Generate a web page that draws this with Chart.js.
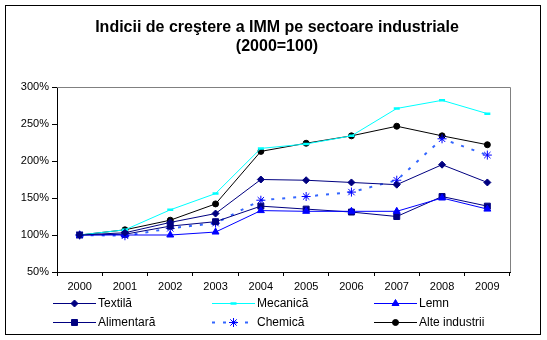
<!DOCTYPE html>
<html>
<head>
<meta charset="utf-8">
<script src="https://cdn.jsdelivr.net/npm/chart.js@4/dist/chart.umd.min.js"></script>
<style>
  html, body { margin: 0; padding: 0; background: #fff; }
  #wrap { width: 547px; height: 340px; }
</style>
</head>
<body>
<div id="wrap"><canvas id="chart" width="547" height="340"></canvas></div>
<script>
const years = ['2000', '2001', '2002', '2003', '2004', '2005', '2006', '2007', '2008', '2009'];
const yTicks = [50, 100, 150, 200, 250, 300];
const titleLines = ['Indicii de creştere a IMM pe sectoare industriale', '(2000=100)'];

const textila    = [100, 103, 117, 129, 175, 174, 171, 168, 195, 171];
const mecanica   = [100, 107, 134, 156, 217, 223, 234, 271, 282, 264];
const lemn       = [100, 100, 100, 104, 133, 132, 132, 132, 150, 135];
const alimentara = [100, 101, 112, 118, 139, 135, 131, 125, 152, 139];
const chemica    = [100,  99, 109, 116, 147, 152, 158, 174, 230, 208];
const alte       = [100, 107, 120, 142, 213, 224, 234, 247, 234, 222];

const fontFamily = "'Liberation Sans', Arial, sans-serif";
Chart.defaults.font.family = fontFamily;
Chart.defaults.color = '#000';

function series(label, data, color, style, radius, extra) {
  return Object.assign({
    label: label,
    data: data,
    borderColor: color,
    backgroundColor: color,
    borderWidth: 1,
    pointStyle: style,
    pointRadius: radius,
    pointHoverRadius: radius,
    pointBackgroundColor: color,
    pointBorderColor: color,
    pointBorderWidth: 1,
    tension: 0,
    fill: false
  }, extra || {});
}

const datasets = [
  series('Textilă', textila, '#000080', 'rectRot', 3.5),
  series('Mecanică', mecanica, '#00FFFF', 'line', 3, { pointBorderWidth: 2.5 }),
  series('Lemn', lemn, '#0000FF', 'triangle', 4),
  series('Alimentară', alimentara, '#000080', 'rect', 4.2),
  series('Chemică', chemica, '#3366FF', 'star', 4.5, {
    borderWidth: 2, borderDash: [3, 8],
    pointBackgroundColor: '#0000FF', pointBorderColor: '#0000FF'
  }),
  series('Alte industrii', alte, '#000000', 'circle', 3)
];

// white background, outer frame, title and gray plot-area border
const framePlugin = {
  id: 'frame',
  beforeDraw(chart) {
    const ctx = chart.ctx;
    ctx.save();
    ctx.fillStyle = '#fff';
    ctx.fillRect(0, 0, chart.width, chart.height);
    ctx.strokeStyle = '#000';
    ctx.lineWidth = 1;
    ctx.strokeRect(5.5, 5.5, 535, 329);
    ctx.fillStyle = '#000';
    ctx.font = 'bold 16px ' + fontFamily;
    ctx.textAlign = 'center';
    ctx.textBaseline = 'middle';
    ctx.fillText(titleLines[0], 277, 28);
    ctx.fillText(titleLines[1], 277, 47);
    ctx.restore();
  },
  beforeDatasetsDraw(chart) {
    const a = chart.chartArea;
    const ctx = chart.ctx;
    ctx.save();
    ctx.strokeStyle = '#808080';
    ctx.lineWidth = 1;
    ctx.beginPath();
    ctx.moveTo(Math.round(a.left), Math.round(a.top) + 0.5);
    ctx.lineTo(Math.round(a.right) + 0.5, Math.round(a.top) + 0.5);
    ctx.lineTo(Math.round(a.right) + 0.5, Math.round(a.bottom));
    ctx.stroke();
    ctx.restore();
  }
};

// legend laid out as a 3 x 2 grid like the original
const legendPlugin = {
  id: 'gridLegend',
  afterDraw(chart) {
    const ctx = chart.ctx;
    const colX = [53, 212, 374];
    const rowY = [303, 322];
    const lineLen = 43;
    chart.data.datasets.forEach(function (ds, i) {
      const x0 = colX[i % 3];
      const y = rowY[Math.floor(i / 3)];
      ctx.save();
      ctx.strokeStyle = ds.borderColor;
      ctx.lineWidth = ds.borderWidth;
      ctx.setLineDash(ds.borderDash || []);
      ctx.beginPath();
      ctx.moveTo(x0, y + 0.5);
      ctx.lineTo(x0 + lineLen, y + 0.5);
      ctx.stroke();
      ctx.setLineDash([]);
      ctx.fillStyle = ds.pointBackgroundColor;
      ctx.strokeStyle = ds.pointBorderColor;
      ctx.lineWidth = ds.pointBorderWidth;
      Chart.helpers.drawPoint(ctx, {
        pointStyle: ds.pointStyle,
        radius: ds.pointRadius,
        rotation: 0,
        borderWidth: ds.pointBorderWidth
      }, x0 + lineLen / 2, y + 0.5);
      ctx.fillStyle = '#000';
      ctx.font = '12px ' + fontFamily;
      ctx.textBaseline = 'middle';
      ctx.textAlign = 'left';
      ctx.fillText(ds.label, x0 + lineLen + 2, y + 1);
      ctx.restore();
    });
  }
};

const config = {
  type: 'line',
  data: { labels: years, datasets: datasets },
  options: {
    responsive: false,
    animation: false,
    layout: { padding: { left: 0, right: 37, top: 87, bottom: 0 } },
    plugins: {
      legend: { display: false },
      tooltip: { enabled: false },
      title: { display: false }
    },
    scales: {
      x: {
        offset: true,
        grid: { offset: true, drawOnChartArea: false, drawTicks: true, tickLength: 4, color: '#000' },
        border: { color: '#000', width: 1 },
        ticks: { font: { size: 11 }, color: '#000', padding: 4, maxRotation: 0, autoSkip: false },
        afterFit(scale) { scale.height = 68; }
      },
      y: {
        min: 50,
        max: 300,
        afterBuildTicks(scale) { scale.ticks = yTicks.map(function (v) { return { value: v }; }); },
        grid: { drawOnChartArea: false, drawTicks: true, tickLength: 5, color: '#000' },
        border: { color: '#000', width: 1 },
        ticks: {
          font: { size: 11 }, color: '#000', padding: 3,
          callback: function (v) { return v + '%'; }
        },
        afterFit(scale) { scale.width = 57; }
      }
    }
  },
  plugins: [framePlugin, legendPlugin]
};

const chart = new Chart(document.getElementById('chart'), config);
</script>
</body>
</html>
